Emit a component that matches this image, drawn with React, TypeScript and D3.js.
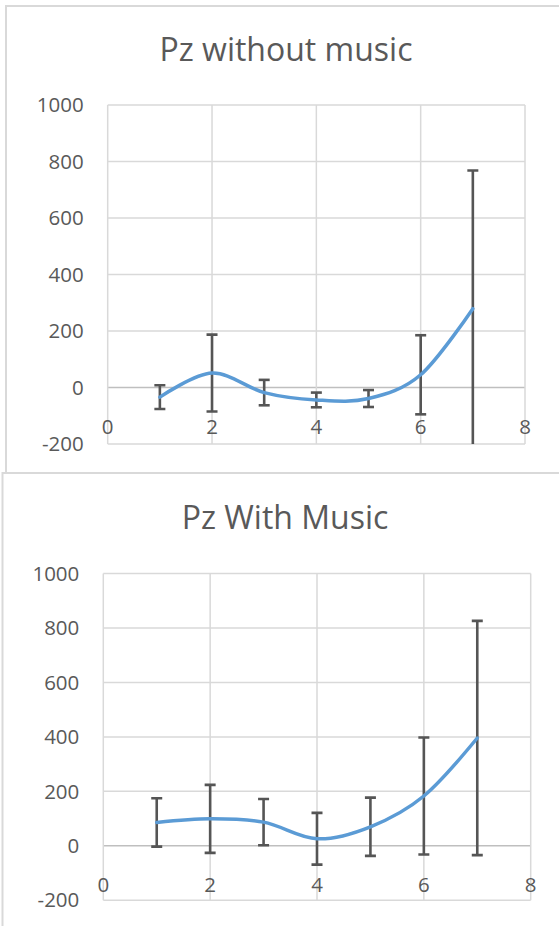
import React from "react"
import * as d3 from "d3"

// x positions shared by both charts
const xs = [1, 2, 3, 4, 5, 6, 7]
const xTicks = [0, 2, 4, 6, 8]
const yTicks = [-200, 0, 200, 400, 600, 800, 1000]

// Pz without music
const meanNoMusic = [-34, 51, -18, -44, -39, 45, 279]
const errNoMusic = [42, 136, 45, 26, 30, 140, 489]

// Pz With Music
const meanMusic = [86, 99, 87, 26, 70, 183, 396]
const errMusic = [89, 125, 85, 95, 107, 215, 430]

const FONT = "'Open Sans', sans-serif"
const TEXT = "#595959"
const GRID = "#d9d9d9"

function Panel(props) {
  const { id, title, means, errs, box, plot, titleY, titleX, labelY } = props
  const x = d3.scaleLinear().domain([0, 8]).range([plot.left, plot.right])
  const y = d3.scaleLinear().domain([-200, 1000]).range([plot.bottom, plot.top])

  const line = d3
    .line()
    .x(d => x(d[0]))
    .y(d => y(d[1]))
    .curve(d3.curveCardinal.tension(0))

  const pts = xs.map((v, i) => [v, means[i]])
  const cap = 5.5

  return (
    <g>
      <rect x={box.x} y={box.y} width={box.w} height={box.h} fill="#fff" stroke={GRID} strokeWidth={2} />
      <text x={titleX} y={titleY} textAnchor="middle" fontFamily={FONT} fontSize={32} fill={TEXT}>
        {title}
      </text>
      <clipPath id={id}>
        <rect x={plot.left - 8} y={plot.top} width={plot.right - plot.left + 16} height={plot.bottom - plot.top} />
      </clipPath>
      {yTicks.map(t => (
        <line key={"gy" + t} x1={plot.left} x2={plot.right} y1={y(t)} y2={y(t)}
          stroke={t === 0 ? "#bfbfbf" : GRID} strokeWidth={1.5} />
      ))}
      {xTicks.map(t => (
        <line key={"gx" + t} x1={x(t)} x2={x(t)} y1={plot.top} y2={plot.bottom} stroke={GRID} strokeWidth={1.5} />
      ))}
      {yTicks.map(t => (
        <text key={"ly" + t} x={plot.left - 24} y={y(t)} dy="0.35em" textAnchor="end"
          fontFamily={FONT} fontSize={20.5} fill={TEXT}>
          {t}
        </text>
      ))}
      {xTicks.map(t => (
        <text key={"lx" + t} x={x(t)} y={labelY} textAnchor="middle" fontFamily={FONT} fontSize={20.5} fill={TEXT}>
          {t}
        </text>
      ))}
      <g clipPath={"url(#" + id + ")"} stroke="#555555" strokeWidth={2.6}>
        {xs.map((v, i) => {
          const hi = y(means[i] + errs[i])
          const lo = y(means[i] - errs[i])
          return (
            <g key={"e" + i}>
              <line x1={x(v)} x2={x(v)} y1={hi} y2={lo} />
              <line x1={x(v) - cap} x2={x(v) + cap} y1={hi} y2={hi} />
              <line x1={x(v) - cap} x2={x(v) + cap} y1={lo} y2={lo} />
            </g>
          )
        })}
      </g>
      <path d={line(pts)} fill="none" stroke="#5b9bd5" strokeWidth={3.5} strokeLinecap="round" />
    </g>
  )
}

export default function App() {
  return (
    <div style={{ position: "absolute", left: 0, top: 0 }}>
      <svg width={559} height={926} style={{ display: "block" }}>
        <rect x={0} y={0} width={559} height={926} fill="#fff" />
        <Panel
          id="clipA"
          title="Pz without music"
          means={meanNoMusic}
          errs={errNoMusic}
          box={{ x: 6, y: 6, w: 600, h: 467 }}
          plot={{ left: 107.7, right: 525, top: 105, bottom: 444 }}
          titleX={286}
          titleY={61}
          labelY={434}
        />
        <Panel
          id="clipB"
          title="Pz With Music"
          means={meanMusic}
          errs={errMusic}
          box={{ x: 2.5, y: 473, w: 600, h: 500 }}
          plot={{ left: 103.3, right: 530.7, top: 573.5, bottom: 900.3 }}
          titleX={285}
          titleY={529}
          labelY={892}
        />
      </svg>
    </div>
  )
}
